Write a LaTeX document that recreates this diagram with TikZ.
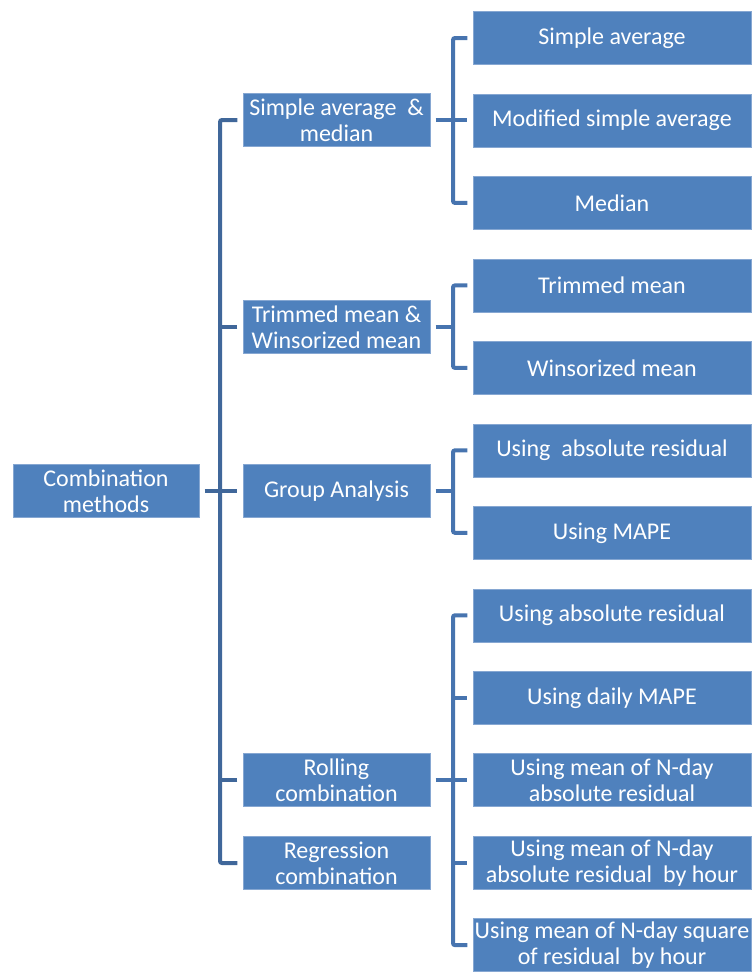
\documentclass[tikz,border=0pt]{standalone}
\usepackage{fontspec}
\setmainfont{Carlito}
\usetikzlibrary{positioning,calc}
\definecolor{boxblue}{HTML}{4F81BD}
\definecolor{boxedge}{HTML}{86A7D2}
\definecolor{linkblue}{HTML}{4774AF}
\definecolor{trunkblue}{HTML}{40679A}
\tikzset{
  rootbox/.style={draw=boxedge, line width=0.4pt, fill=boxblue, text=white, align=center,
    minimum width=139.5pt, minimum height=39.75pt, inner sep=1pt,
    font=\fontsize{18}{19.5}\selectfont},
  groupbox/.style={rootbox, minimum width=140.25pt},
  leafbox/.style={rootbox, minimum width=208.5pt},
  link/.style={draw=linkblue, line width=3pt, rounded corners=1.5pt},
  trunk/.style={link, draw=trunkblue}
}

\begin{document}
\begin{tikzpicture}[x=0.75pt, y=-0.75pt, node distance=21.7pt]
  \useasboundingbox (0,0) rectangle (754,975);
  % leaves, right column
  \node[leafbox] (sa) at (612,38) {Simple average};
  \node[leafbox, below=of sa] (msa) {Modified simple average};
  \node[leafbox, below=of msa] (med) {Median};
  \node[leafbox, below=of med] (tm) {Trimmed mean};
  \node[leafbox, below=of tm] (wm) {Winsorized mean};
  \node[leafbox, below=of wm] (gabs) {Using\ \ absolute residual};
  \node[leafbox, below=of gabs] (gmape) {Using MAPE};
  \node[leafbox, below=of gmape] (rabs) {Using absolute residual};
  \node[leafbox, below=of rabs] (rmape) {Using daily MAPE};
  \node[leafbox, below=of rmape] (rnabs) {Using mean of N-day\\absolute residual};
  \node[leafbox, below=of rnabs] (rnhour) {Using mean of N-day\\absolute residual\ \ by hour};
  \node[leafbox, below=of rnhour] (rnsq) {Using mean of N-day square\\of residual\ \ by hour};
  % groups
  \node[groupbox] (sam) at (336.5,120) {Simple average\ \ \&\\median};
  \node[groupbox] (twm) at (336.5,327) {Trimmed mean \&\\Winsorized mean};
  \node[groupbox] (grp) at (336.5,491) {Group Analysis};
  \node[groupbox] (roll) at (336.5,780) {Rolling\\combination};
  \node[groupbox] (regr) at (336.5,863) {Regression\\combination};
  \node[rootbox] (root) at (106,491) {Combination\\methods};

  \coordinate (t) at (220,491);
  \coordinate (bx) at (453,0);
  \draw[trunk] ([xshift=-4pt]sam.west) -| (t) |- ([xshift=-4pt]regr.west);
  \foreach \g in {twm,roll}
    \draw[trunk] ([xshift=-4pt]\g.west) -- (\g.west -| t);
  \draw[trunk] ([xshift=4pt]root.east) -- ([xshift=-4pt]grp.west);

  \foreach \p/\a/\b in {sam/sa/med,twm/tm/wm,grp/gabs/gmape,roll/rabs/rnsq} {
    \draw[link] ([xshift=-4pt]\a.west) -| (bx |- \b.west) -- ([xshift=-4pt]\b.west);
    \draw[link] ([xshift=4pt]\p.east) -- (\p.east -| bx);
  }
  \foreach \m in {msa,rnabs,rmape,rnhour}
    \draw[link] (\m.west -| bx) -- ([xshift=-4pt]\m.west);
\end{tikzpicture}
\end{document}
